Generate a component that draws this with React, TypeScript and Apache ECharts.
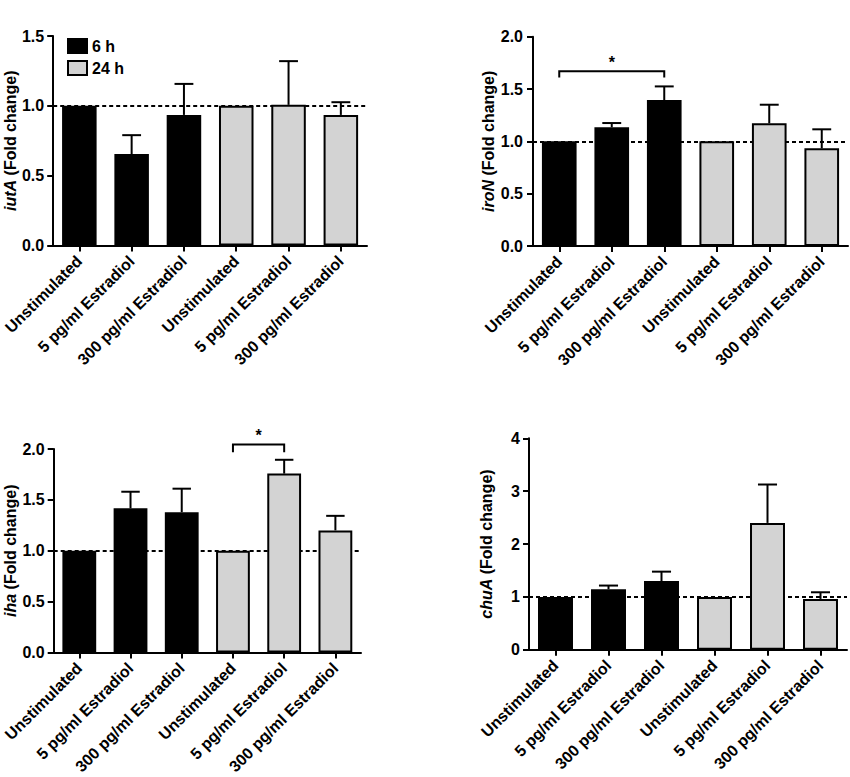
import React, { useEffect, useRef } from "react";
import * as echarts from "echarts";

const conditions = [
  "Unstimulated",
  "5 pg/ml Estradiol",
  "300 pg/ml Estradiol",
  "Unstimulated",
  "5 pg/ml Estradiol",
  "300 pg/ml Estradiol",
];
const timeGroups = ["6 h", "24 h"];
const groupOfBar = [0, 0, 0, 1, 1, 1];

const genes = ["iutA", "iroN", "iha", "chuA"];

const iutAMean = [1, 0.655, 0.935, 1, 1.007, 0.935];
const iutAUpper = [null, 0.79, 1.157, null, 1.32, 1.026];

const iroNMean = [1, 1.134, 1.395, 1, 1.172, 0.933];
const iroNUpper = [null, 1.175, 1.525, null, 1.35, 1.115];

const ihaMean = [1, 1.417, 1.379, 1, 1.758, 1.2];
const ihaUpper = [null, 1.58, 1.61, null, 1.894, 1.343];

const chuAMean = [1, 1.145, 1.3, 1, 2.4, 0.962];
const chuAUpper = [null, 1.215, 1.478, null, 3.126, 1.088];

// [fromIndex, toIndex, bracketY, dropY, starY]
const iroNBracket = [0, 2, 1.67, 1.61, 1.75];
const ihaBracket = [3, 4, 2.045, 1.968, 2.135];
const sigLabel = "*";

const yMax = [1.5, 2.0, 2.0, 4];
const yStep = [0.5, 0.5, 0.5, 1];
const yDecimals = [1, 1, 1, 0];
const baseline = 1;

const FONT = "'Liberation Sans', Arial, Helvetica, sans-serif";
const GRAY = "#d3d3d3";

const grids = [
  { left: 52, top: 36, width: 315, height: 209.5 },
  { left: 533, top: 36.7, width: 315, height: 209.3 },
  { left: 52, top: 449, width: 309, height: 207 },
  { left: 529, top: 438.3, width: 318, height: 211.5 },
];
const nameGaps = [34, 36, 34, 35];
const labelMargins = [9, 10, 9, 9];

export default function App() {
  const ref = useRef<HTMLDivElement>(null);

  useEffect(() => {
    document.body.style.margin = "0";
    if (!ref.current) return;
    const chart = echarts.init(ref.current, null, { renderer: "svg" });

    const means = [iutAMean, iroNMean, ihaMean, chuAMean];
    const uppers = [iutAUpper, iroNUpper, ihaUpper, chuAUpper];
    const brackets: (number[] | null)[] = [null, iroNBracket, ihaBracket, null];

    const catData = conditions.map((c, i) => `${i}:${c}`);

    const xAxes = grids.map((_, i) => ({
      type: "category",
      gridIndex: i,
      data: catData,
      axisLine: { show: true, lineStyle: { color: "#000", width: 2 } },
      axisTick: { show: true, alignWithLabel: true, length: 6, lineStyle: { color: "#000", width: 2 } },
      axisLabel: {
        interval: 0,
        rotate: 45,
        margin: 13,
        color: "#000",
        fontWeight: "bold",
        fontSize: 16,
        fontFamily: FONT,
        formatter: (v: string) => v.substring(v.indexOf(":") + 1),
      },
      splitLine: { show: false },
    }));

    const yAxes = grids.map((_, i) => ({
      type: "value",
      gridIndex: i,
      min: 0,
      max: yMax[i],
      interval: yStep[i],
      name: `{g|${genes[i]}} (Fold change)`,
      nameLocation: "middle",
      nameGap: nameGaps[i],
      nameTextStyle: {
        color: "#000",
        fontWeight: "bold",
        fontSize: 16,
        fontFamily: FONT,
        rich: {
          g: { fontStyle: "italic", fontWeight: "bold", fontSize: 16, fontFamily: FONT, color: "#000" },
        },
      },
      axisLine: { show: true, lineStyle: { color: "#000", width: 2 } },
      axisTick: { show: true, length: 6, lineStyle: { color: "#000", width: 2 } },
      axisLabel: {
        margin: labelMargins[i],
        color: "#000",
        fontWeight: "bold",
        fontSize: 16,
        fontFamily: FONT,
        formatter: (v: number) => v.toFixed(yDecimals[i]),
      },
      splitLine: { show: false },
    }));

    const series: any[] = [];
    grids.forEach((_, i) => {
      series.push({
        type: "line",
        name: "baseline" + i,
        xAxisIndex: i,
        yAxisIndex: i,
        data: [],
        z: 1,
        silent: true,
        markLine: {
          silent: true,
          z: 1,
          symbol: ["none", "none"],
          label: { show: false },
          lineStyle: { color: "#000", width: 2, type: [4, 3] },
          data: [{ yAxis: baseline }],
        },
      });
      timeGroups.forEach((g, gi) => {
        series.push({
          type: "bar",
          name: g,
          xAxisIndex: i,
          yAxisIndex: i,
          z: 2,
          barWidth: "66%",
          barGap: "-100%",
          itemStyle: {
            color: gi === 0 ? "#000" : GRAY,
            borderColor: "#000",
            borderWidth: 2,
          },
          data: means[i].map((v, k) => (groupOfBar[k] === gi ? v : "-")),
        });
      });
      series.push({
        type: "custom",
        name: "err" + i,
        xAxisIndex: i,
        yAxisIndex: i,
        z: 3,
        clip: false,
        silent: true,
        encode: { x: 0, y: 1 },
        data: means[i]
          .map((m, k) => (uppers[i][k] == null ? null : [k, m, uppers[i][k]]))
          .filter((d) => d !== null),
        renderItem: (params: any, api: any) => {
          const x = api.value(0);
          const m = api.value(1);
          const u = api.value(2);
          const p0 = api.coord([x, m]);
          const p1 = api.coord([x, u]);
          const half = api.size([1, 0])[0] * 0.18;
          const st = { stroke: "#000", lineWidth: 2 };
          return {
            type: "group",
            children: [
              { type: "line", shape: { x1: p0[0], y1: p0[1], x2: p1[0], y2: p1[1] }, style: st },
              { type: "line", shape: { x1: p1[0] - half, y1: p1[1], x2: p1[0] + half, y2: p1[1] }, style: st },
            ],
          };
        },
      });
      const br = brackets[i];
      if (br) {
        series.push({
          type: "custom",
          name: "sig" + i,
          xAxisIndex: i,
          yAxisIndex: i,
          z: 3,
          clip: false,
          silent: true,
          encode: { x: 0, y: 2 },
          data: [br],
          renderItem: (params: any, api: any) => {
            const a = api.value(0);
            const b = api.value(1);
            const y = api.value(2);
            const d = api.value(3);
            const s = api.value(4);
            const pa = api.coord([a, y]);
            const pb = api.coord([b, y]);
            const pad = api.coord([a, d]);
            const pbd = api.coord([b, d]);
            const ps = api.coord([a, s]);
            return {
              type: "group",
              children: [
                {
                  type: "polyline",
                  shape: { points: [[pad[0], pad[1]], [pa[0], pa[1]], [pb[0], pb[1]], [pbd[0], pbd[1]]] },
                  style: { stroke: "#000", lineWidth: 2, fill: "none" },
                },
                {
                  type: "text",
                  style: {
                    text: sigLabel,
                    x: (pa[0] + pb[0]) / 2,
                    y: ps[1],
                    fill: "#000",
                    fontSize: 16,
                    fontWeight: "bold",
                    fontFamily: FONT,
                    align: "center",
                    verticalAlign: "middle",
                  },
                },
              ],
            };
          },
        });
      }
    });

    chart.setOption({
      animation: false,
      backgroundColor: "#fff",
      textStyle: { fontFamily: FONT },
      grid: grids.map((g) => ({ ...g, containLabel: false })),
      xAxis: xAxes,
      yAxis: yAxes,
      legend: {
        data: [
          { name: timeGroups[0], itemStyle: { color: "#000", borderColor: "#000", borderWidth: 2 } },
          { name: timeGroups[1], itemStyle: { color: GRAY, borderColor: "#000", borderWidth: 2 } },
        ],
        icon: "rect",
        orient: "vertical",
        left: 67,
        top: 38,
        padding: 0,
        itemWidth: 19,
        itemHeight: 14,
        itemGap: 6,
        selectedMode: false,
        textStyle: { color: "#000", fontWeight: "bold", fontSize: 16, fontFamily: FONT, lineHeight: 14 },
      },
      series,
    });

    return () => chart.dispose();
  }, []);

  return (
    <div
      ref={ref}
      style={{ position: "absolute", left: 0, top: 0, width: 850, height: 777 }}
    />
  );
}
